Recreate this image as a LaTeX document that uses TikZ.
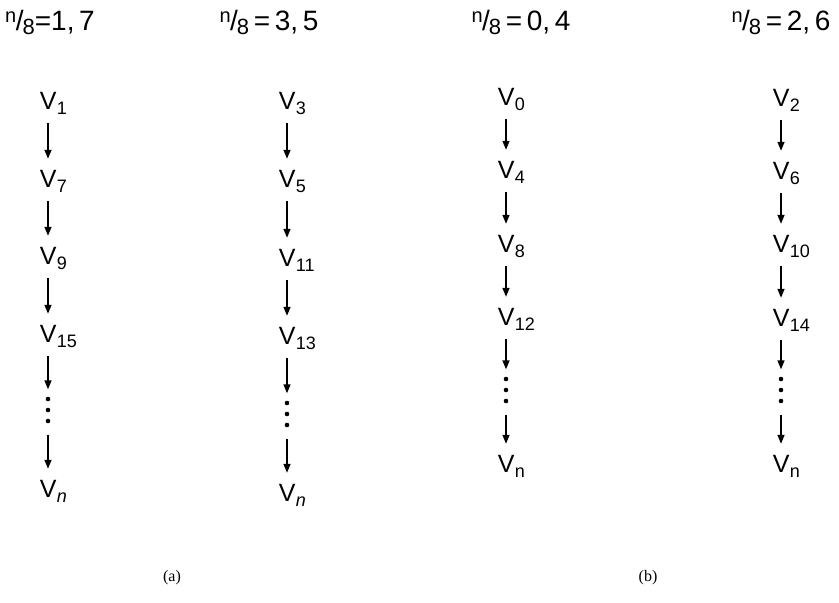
\documentclass[tikz,border=0pt]{standalone}
\usepackage{fontspec}
\setmainfont{Liberation Sans}
\newfontfamily\capfont{Liberation Serif}
\usetikzlibrary{arrows.meta}
\newcommand{\Vsub}[1]{V\kern0.3pt\raisebox{-5pt}{\fontsize{18}{18}\selectfont #1}}
\newcommand{\hdr}[1]{\raisebox{8pt}{\fontsize{20}{20}\selectfont n}\kern-0.5pt/\kern-1pt\raisebox{-4pt}{\fontsize{22}{22}\selectfont 8}#1}
\begin{document}
\begin{tikzpicture}[x=1pt,y=-1pt,
  vnode/.style={inner sep=0pt, text height=18pt, text depth=6pt, anchor=base west, font=\fontsize{25}{25}\selectfont},
  hnode/.style={inner sep=0pt, font=\fontsize{28}{28}\selectfont},
  capnode/.style={inner sep=0pt, font=\capfont\fontsize{16}{16}\selectfont},
  dotsnode/.style={inner sep=0pt, minimum width=7pt, minimum height=27pt,
    path picture={\foreach \k in {-11,0,11}
      \fill ([yshift=\k pt]path picture bounding box.center) circle (2.3pt);}},
  link/.style={-{Triangle[length=9pt,width=7pt]}, line width=1.4pt, shorten <=8pt, shorten >=10pt},
  todots/.style={link, shorten >=7pt},
  fromdots/.style={link, shorten <=11pt}]
\useasboundingbox (0,0) rectangle (839,603);
\fill[white] (0,0) rectangle (839,603);
% column axes
\coordinate (c1) at (48,0);
\coordinate (c2) at (287,0);
\coordinate (c3) at (506,0);
\coordinate (c4) at (781,0);
% headers
\node[hnode] (h1) at (50,22) {\hdr{=1,\,7}};
\node[hnode] (h2) at (269,22) {\hdr{\,=\,3,\,5}};
\node[hnode] (h3) at (521,22) {\hdr{\,=\,0,\,4}};
\node[hnode] (h4) at (781,22) {\hdr{\,=\,2,\,6}};
% column 1
\node[vnode] (a1) at (39.7,109) {\Vsub{1}};
\node[vnode] (a2) at (39.7,187) {\Vsub{7}};
\node[vnode] (a3) at (39.7,264) {\Vsub{9}};
\node[vnode] (a4) at (39.7,342) {\Vsub{15}};
\node[dotsnode] (ad) at (48,410) {};
\node[vnode] (an) at (39.7,497) {\Vsub{\textit{n}}};
% column 2
\node[vnode] (b1) at (278.7,109) {\Vsub{3}};
\node[vnode] (b2) at (278.7,187) {\Vsub{5}};
\node[vnode] (b3) at (278.7,266) {\Vsub{11}};
\node[vnode] (b4) at (278.7,344) {\Vsub{13}};
\node[dotsnode] (bd) at (287,414) {};
\node[vnode] (bn) at (278.7,501) {\Vsub{\textit{n}}};
% column 3
\node[vnode] (d1) at (497.7,105) {\Vsub{0}};
\node[vnode] (d2) at (497.7,178) {\Vsub{4}};
\node[vnode] (d3) at (497.7,252) {\Vsub{8}};
\node[vnode] (d4) at (497.7,325) {\Vsub{12}};
\node[dotsnode] (dd) at (506,390) {};
\node[vnode] (dn) at (497.7,472) {\Vsub{n}};
% column 4
\node[vnode] (e1) at (772.7,106) {\Vsub{2}};
\node[vnode] (e2) at (772.7,179) {\Vsub{6}};
\node[vnode] (e3) at (772.7,252) {\Vsub{10}};
\node[vnode] (e4) at (772.7,326) {\Vsub{14}};
\node[dotsnode] (ed) at (781,390) {};
\node[vnode] (en) at (772.7,472) {\Vsub{n}};
% arrows
\foreach \p/\c in {a/c1,b/c2,d/c3,e/c4}{
  \draw[link] (\p1.south -| \c) -- (\p2.north -| \c);
  \draw[link] (\p2.south -| \c) -- (\p3.north -| \c);
  \draw[link] (\p3.south -| \c) -- (\p4.north -| \c);
  \draw[todots] (\p4.south -| \c) -- (\p d.north);
  \draw[fromdots] (\p d.south) -- (\p n.north -| \c);
}
% captions
\node[capnode] (capa) at (172,578) {(a)};
\node[capnode] (capb) at (648,578) {(b)};
\end{tikzpicture}
\end{document}
